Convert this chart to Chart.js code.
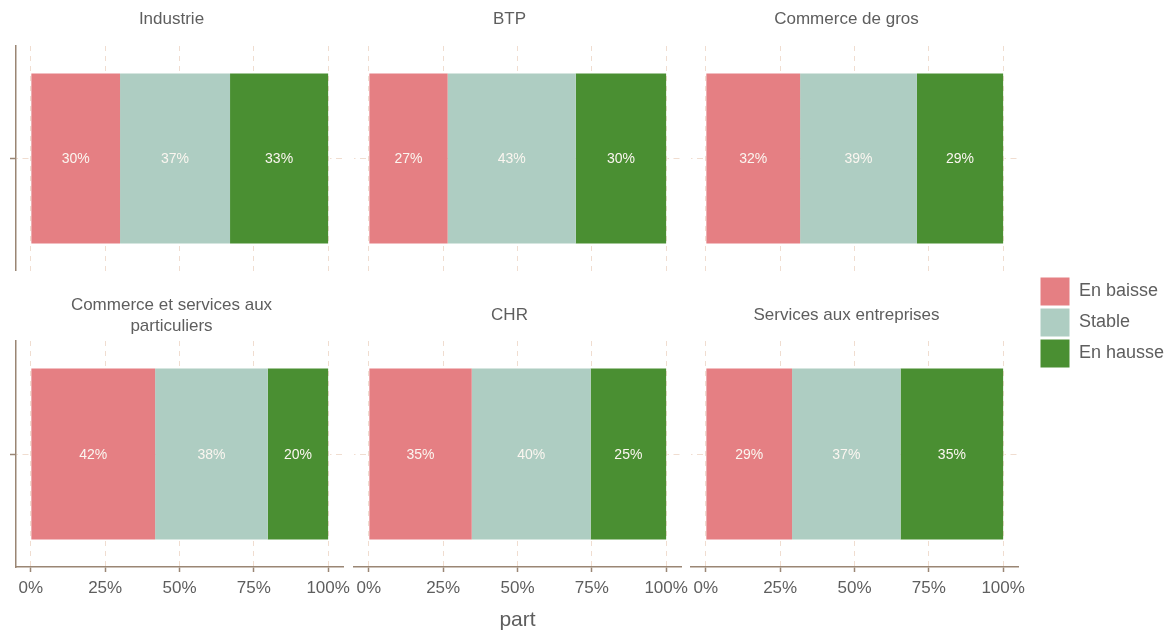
<!DOCTYPE html>
<html>
<head>
<meta charset="utf-8">
<script src="https://cdn.jsdelivr.net/npm/chart.js@4.4.1/dist/chart.umd.min.js"></script>
<style>
    body { margin: 0; background: #fff; width: 1167px; height: 630px; position: relative; overflow: hidden; }
    canvas { position: absolute; }
</style>
</head>
<body>
<script>
// données (part en %)
const sectors = ['Industrie', 'BTP', 'Commerce de gros', ['Commerce et services aux', 'particuliers'], 'CHR', 'Services aux entreprises']
const seriesNames = ['En baisse', 'Stable', 'En hausse']
const baisse = [30, 26.5, 31.7, 41.8, 34.6, 29.0]
const stable = [37, 43.1, 39.3, 37.9, 40.0, 36.5]
const hausse = [33, 30.4, 29.0, 20.3, 25.4, 34.5]
const tickValues = [0, 25, 50, 75, 100]
const axisTitle = 'part'

const series = [baisse, stable, hausse]
const colors = ['#e57f83', '#aecdc2', '#4a8f32']
const textColor = '#5e5e5e'
const axisColor = '#9a8674'
const gridColor = '#f0ddd0'
const family = '"Liberation Sans", Arial, sans-serif'

Chart.defaults.font.family = family

// mise en page des facettes
const colLeft = [16, 353.5, 691]
const panelWidth = 327
const yAxisWidth = 16
const rightPad = 18
const titleLine = 17 * 1.2
const rows = [
    { canvasTop: 0, canvasBottom: 271, chartTop: 46, chartBottom: 271, titleCenter: 19, twoLineCenter: 9 },
    { canvasTop: 290, canvasBottom: 630, chartTop: 341, chartBottom: 567, titleCenter: 315, twoLineCenter: 305.5 }
]

const barLabels = {
    id: 'barLabels',
    afterDatasetsDraw(chart) {
        const ctx = chart.ctx
        ctx.save()
        ctx.font = '14px ' + family
        ctx.fillStyle = '#fbf6f0'
        ctx.textAlign = 'center'
        ctx.textBaseline = 'middle'
        chart.data.datasets.forEach((ds, i) => {
            chart.getDatasetMeta(i).data.forEach((bar, j) => {
                ctx.fillText(Math.round(ds.data[j]) + '%', (bar.x + bar.base) / 2, bar.y + 1)
            })
        })
        ctx.restore()
    }
}

function createPanel (index) {
    const col = index % 3
    const row = Math.floor(index / 3)
    const r = rows[row]
    const isBottom = row === 1
    const isLeft = col === 0

    const canvas = document.createElement('canvas')
    canvas.width = yAxisWidth + panelWidth + rightPad
    canvas.height = r.canvasBottom - r.canvasTop
    canvas.style.left = (colLeft[col] - yAxisWidth) + 'px'
    canvas.style.top = r.canvasTop + 'px'
    document.body.appendChild(canvas)

    const title = sectors[index]
    const lines = Array.isArray(title) ? title.length : 1
    const padTop = (lines > 1 ? r.twoLineCenter : r.titleCenter) - r.canvasTop - titleLine / 2
    const padBottom = r.chartTop - r.canvasTop - padTop - titleLine * lines

    return new Chart(canvas, {
        type: 'bar',
        data: {
            labels: [''],
            datasets: seriesNames.map((name, s) => ({
                label: name,
                data: [series[s][index]],
                backgroundColor: colors[s],
                barPercentage: 0.756,
                categoryPercentage: 1
            }))
        },
        options: {
            indexAxis: 'y',
            responsive: false,
            animation: false,
            layout: { padding: { left: 0, top: 0, right: rightPad, bottom: 0 } },
            plugins: {
                legend: { display: false },
                tooltip: { enabled: false },
                title: {
                    display: true,
                    text: title,
                    color: textColor,
                    font: { size: 17, weight: 'normal', lineHeight: 1.2 },
                    padding: { top: padTop, bottom: padBottom }
                }
            },
            scales: {
                x: {
                    stacked: true,
                    min: -5,
                    max: 105,
                    afterBuildTicks: scale => { scale.ticks = tickValues.map(v => ({ value: v })) },
                    afterFit: scale => { scale.height = isBottom ? r.canvasBottom - r.chartBottom : 0 },
                    grid: { color: gridColor, lineWidth: 1, drawTicks: isBottom, tickLength: 5, tickColor: axisColor, tickWidth: 1.5 },
                    border: { display: isBottom, color: axisColor, width: 1.5, dash: [5, 5] },
                    ticks: {
                        display: isBottom,
                        padding: 6,
                        color: textColor,
                        font: { size: 17 },
                        maxRotation: 0,
                        autoSkip: false,
                        callback: v => v + '%'
                    },
                    title: {
                        display: isBottom && col === 1,
                        text: axisTitle,
                        color: textColor,
                        font: { size: 21, lineHeight: 1 },
                        padding: { top: 0, bottom: -1 }
                    }
                },
                y: {
                    stacked: true,
                    afterFit: scale => { scale.width = yAxisWidth },
                    grid: { offset: false, color: gridColor, lineWidth: 1, drawTicks: isLeft, tickLength: 6, tickColor: axisColor, tickWidth: 1.5 },
                    border: { display: isLeft, color: axisColor, width: 1.5, dash: [1.5, 4.5, 6, 4.5] },
                    ticks: { display: false }
                }
            }
        },
        plugins: [barLabels]
    })
}

function createLegend () {
    const canvas = document.createElement('canvas')
    canvas.width = 260
    canvas.height = 110
    canvas.style.left = '1037.5px'
    canvas.style.top = '275.3px'
    document.body.appendChild(canvas)

    return new Chart(canvas, {
        type: 'bar',
        data: {
            labels: [],
            datasets: seriesNames.map((name, s) => ({
                label: name,
                data: [],
                backgroundColor: colors[s],
                borderColor: '#ffffff',
                borderWidth: 1
            }))
        },
        options: {
            responsive: false,
            animation: false,
            scales: { x: { display: false }, y: { display: false } },
            plugins: {
                tooltip: { enabled: false },
                legend: {
                    position: 'left',
                    align: 'start',
                    labels: { boxWidth: 30, boxHeight: 29, padding: 2, color: textColor, font: { size: 18 } }
                }
            }
        }
    })
}

const panels = sectors.map((s, i) => createPanel(i))
const legendChart = createLegend()
</script>
</body>
</html>
